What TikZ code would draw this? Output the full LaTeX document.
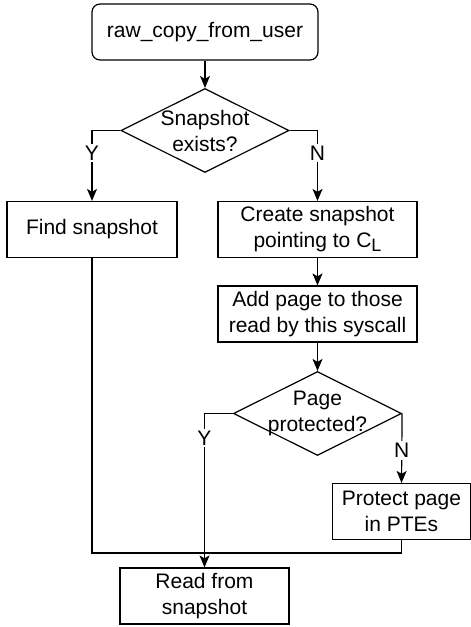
\documentclass[tikz,border=0pt]{standalone}
\usepackage{fontspec}
\setmainfont{Liberation Sans}
\usetikzlibrary{shapes.geometric,arrows.meta}
\tikzstyle{block} = [rectangle, draw=black, line width=.6pt, align=center, inner sep=0pt, minimum height=28pt]
\tikzstyle{decision} = [diamond, draw=black, line width=.6pt, inner sep=0pt, minimum width=84pt, minimum height=42pt]
\tikzstyle{flow} = [line width=.6pt, -{Stealth[length=6pt,width=5pt,inset=1.5pt]}]
\tikzstyle{link} = [line width=.6pt]
\tikzstyle{answer} = [fill=white, inner sep=1pt]
\newcommand{\CL}{C\raisebox{-.35ex}{\fontsize{9}{9}\selectfont L}}

\begin{document}
\begin{tikzpicture}[x=.5pt, y=-.5pt, font=\fontsize{10.5}{13}\selectfont]%
	\useasboundingbox (0,0) rectangle (471,627);
	% nodes
	\node [block, rounded corners=4pt, minimum width=113pt] (start) at (205,32) {raw\_copy\_from\_user};
	\node [decision, label={[align=center]center:Snapshot\\exists?}] (exists) at (205,130.5) {};
	\node [block, minimum width=85pt] (find) at (92,229.5) {Find snapshot};
	\node [block, minimum width=99.5pt] (create) at (317.5,229.5) {Create snapshot\\pointing to \CL};
	\node [block, minimum width=99.5pt] (addpg) at (317.5,314) {Add page to those\\read by this syscall};
	\node [decision, label={[align=center]center:Page\\protected?}] (prot) at (317.5,413.5) {};
	\node [block, minimum width=69pt] (protect) at (401.5,511.5) {Protect page\\in PTEs};
	\node [block, minimum width=84.5pt] (read) at (204.5,596) {Read from\\snapshot};
	\coordinate (join) at (204.5,553);
	% connectors
	\draw [flow] (start) -- (exists);
	\draw [flow] (exists.west) -| (find.north) node [answer, pos=.66] {Y};
	\draw [flow] (exists.east) -| (create.north) node [answer, pos=.66] {N};
	\draw [flow] (create) -- (addpg);
	\draw [flow] (addpg) -- (prot);
	\draw [flow] (prot.east) -- (protect.north) node [answer, pos=.53] {N};
	\draw [flow] (prot.west) -| (read.north) node [answer, pos=.58] {Y};
	\draw [link] (find.south) |- (join);
	\draw [link] (protect.south) |- (join);
\end{tikzpicture}
\end{document}
